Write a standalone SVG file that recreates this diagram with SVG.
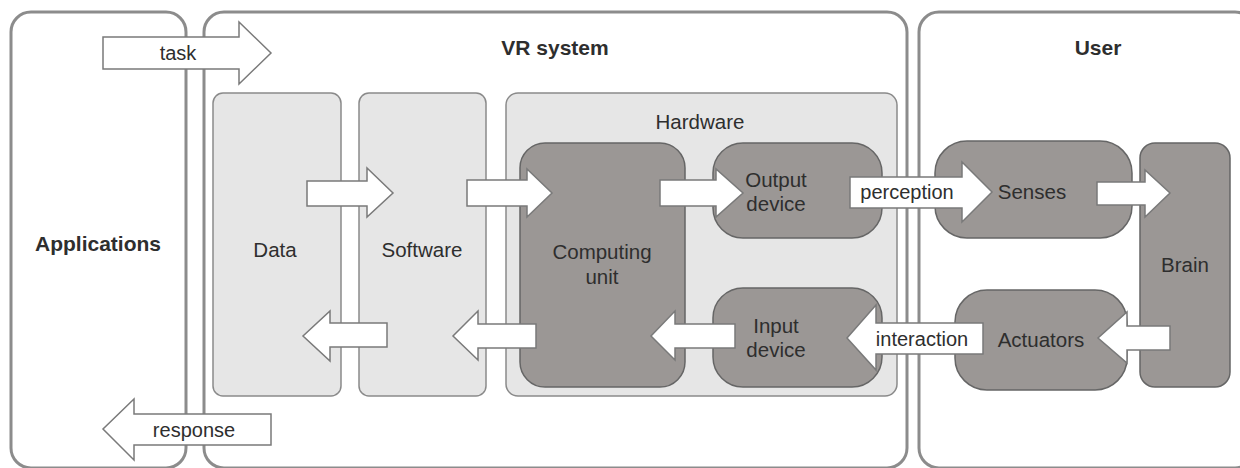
<svg xmlns="http://www.w3.org/2000/svg" width="1240" height="468" viewBox="0 0 1240 468">
  <style>
    .frame { fill: #ffffff; stroke: #8c8c8c; stroke-width: 3; }
    .light { fill: #e6e6e6; stroke: #8a8a8a; stroke-width: 1.5; }
    .dark { fill: #9b9795; stroke: #666666; stroke-width: 1.5; }
    .arrow { fill: #ffffff; stroke: #7a7a7a; stroke-width: 1.5; stroke-linejoin: miter; }
    text { font-family: "Liberation Sans", Arial, sans-serif; fill: #2e2e2e; text-anchor: middle; }
    .title { font-size: 21px; font-weight: bold; }
    .label { font-size: 20.5px; }
    .small { font-size: 20px; }
  </style>

  <!-- outer containers -->
  <g id="applications">
    <rect class="frame" x="11" y="12" width="175" height="456" rx="20"/>
    <text class="title" x="98" y="251">Applications</text>
  </g>
  <g id="vr-system">
    <rect class="frame" x="204" y="12" width="703" height="456" rx="20"/>
    <text class="title" x="555" y="55">VR system</text>
  </g>
  <g id="user">
    <rect class="frame" x="919" y="12" width="336" height="456" rx="20"/>
    <text class="title" x="1098" y="55">User</text>
  </g>

  <!-- VR system parts -->
  <g id="data">
    <rect class="light" x="213" y="93" width="128" height="303" rx="10"/>
    <text class="label" x="275" y="257">Data</text>
  </g>
  <g id="software">
    <rect class="light" x="359" y="93" width="127" height="303" rx="10"/>
    <text class="label" x="422" y="257">Software</text>
  </g>
  <g id="hardware">
    <rect class="light" x="506" y="93" width="391" height="303" rx="12"/>
    <text class="label" x="700" y="129">Hardware</text>
  </g>
  <g id="computing-unit">
    <rect class="dark" x="520" y="143" width="165" height="244" rx="25"/>
    <text class="label" x="602" y="259">Computing</text>
    <text class="label" x="602" y="284">unit</text>
  </g>
  <g id="output-device">
    <rect class="dark" x="713" y="143" width="169" height="95" rx="30"/>
    <text class="label" x="776" y="187">Output</text>
    <text class="label" x="776" y="211">device</text>
  </g>
  <g id="input-device">
    <rect class="dark" x="713" y="288" width="169" height="99" rx="30"/>
    <text class="label" x="776" y="333">Input</text>
    <text class="label" x="776" y="357">device</text>
  </g>

  <!-- User parts -->
  <g id="senses">
    <rect class="dark" x="935" y="141" width="197" height="97" rx="32"/>
    <text class="label" x="1032" y="199">Senses</text>
  </g>
  <g id="brain">
    <rect class="dark" x="1140" y="143" width="90" height="244" rx="15"/>
    <text class="label" x="1185" y="272">Brain</text>
  </g>
  <g id="actuators">
    <rect class="dark" x="955" y="290" width="172" height="100" rx="32"/>
    <text class="label" x="1041" y="347">Actuators</text>
  </g>

  <!-- block-arrow connectors -->
  <g id="connectors">
    <!-- task: Applications -> VR system -->
    <polygon class="arrow" points="103,37 239,37 239,22 271,53 239,84 239,69 103,69"/>
    <text class="small" x="178" y="60">task</text>
    <!-- response: VR system -> Applications -->
    <polygon class="arrow" points="271,414 134,414 134,399 103,429 134,460 134,445 271,445"/>
    <text class="small" x="194" y="437">response</text>

    <!-- forward path -->
    <polygon class="arrow" points="307,181 367,181 367,168 393,193 367,217 367,206 307,206"/>
    <polygon class="arrow" points="467,180 527,180 527,169 552,193 527,217 527,206 467,206"/>
    <polygon class="arrow" points="660,180 716,180 716,169 743,193 716,217 716,206 660,206"/>
    <polygon class="arrow" points="850,177 962,177 962,162 992,192 962,222 962,208 850,208"/>
    <text class="small" x="907" y="199">perception</text>
    <polygon class="arrow" points="1097,182 1145,182 1145,170 1170,193 1145,217 1145,205 1097,205"/>

    <!-- return path -->
    <polygon class="arrow" points="1170,326 1127,326 1127,312 1098,338 1127,363 1127,350 1170,350"/>
    <polygon class="arrow" points="983,323 876,323 876,305 847,338 876,370 876,354 983,354"/>
    <text class="small" x="922" y="346">interaction</text>
    <polygon class="arrow" points="735,324 675,324 675,311 651,336 675,360 675,348 735,348"/>
    <polygon class="arrow" points="536,324 478,324 478,311 453,336 478,360 478,348 536,348"/>
    <polygon class="arrow" points="387,323 330,323 330,311 303,336 330,361 330,347 387,347"/>
  </g>
</svg>
